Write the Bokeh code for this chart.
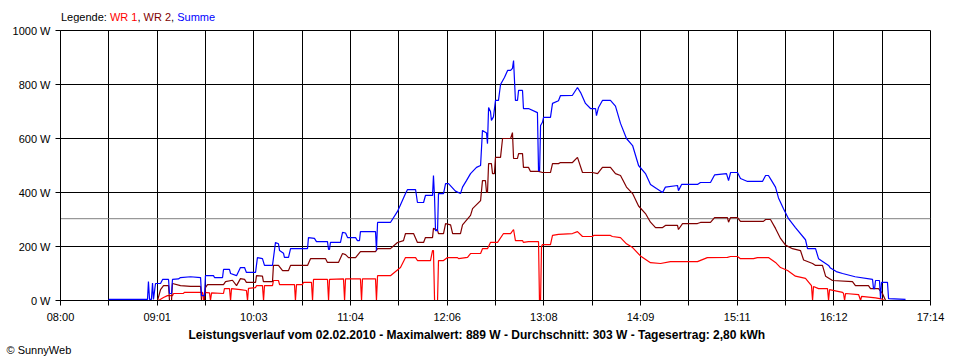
from bokeh.plotting import figure
from bokeh.models import Range1d, FixedTicker, Span, Title, Div
from bokeh.layouts import column
from bokeh.embed import file_html
from bokeh.resources import INLINE

FONT = "Liberation Sans"

# time axis: minutes after 08:00, ending 17:14
x_end = 554
x_tick_labels = ["08:00", "09:01", "10:03", "11:04", "12:06",
                 "13:08", "14:09", "15:11", "16:12", "17:14"]
y_ticks = [0, 200, 400, 600, 800, 1000]
y_tick_labels = ["0 W", "200 W", "400 W", "600 W", "800 W", "1000 W"]
avg_w = 303

series_names = ["WR 1", "WR 2", "Summe"]
series_colors = ["#FF0000", "#800000", "#0000FF"]

title_text = ("Leistungsverlauf vom 02.02.2010 - Maximalwert: 889 W - "
              "Durchschnitt: 303 W - Tagesertrag: 2,80 kWh")
credit_text = "\u00a9 SunnyWeb"

# Summe (blue)
sum_t = [30.6, 55.4, 56.0, 56.7, 57.9, 58.6, 59.2, 60.5, 63.7, 65.0, 68.8, 69.4, 70.7, 71.3,
         75.1, 76.4, 82.8, 89.2, 89.8, 91.7, 92.3, 97.4, 98.1, 103.2, 103.8, 107.6, 108.3,
         112.1, 114.6, 117.2, 118.4, 124.2, 125.4, 128.6, 129.9, 135.0, 136.9, 138.8, 139.5,
         142.0, 142.6, 145.2, 146.5, 157.3, 157.9, 161.7, 163.0, 170.0, 170.7, 171.3, 171.9,
         178.3, 179.6, 181.5, 182.8, 187.9, 189.1, 190.4, 191.0, 200.6, 201.2, 201.9, 210.1,
         214.6, 219.7, 221.0, 226.1, 227.3, 231.2, 232.4, 236.9, 237.5, 238.2, 238.8, 240.1,
         240.7, 243.9, 245.2, 247.1, 251.5, 254.7, 256.0, 258.5, 261.1, 264.9, 267.5, 268.7,
         271.3, 271.9, 272.6, 273.8, 274.4, 275.7, 277.0, 278.9, 280.2, 282.7, 284.7, 286.6,
         287.8, 288.5, 289.7, 291.0, 291.7, 294.2, 294.8, 298.0, 303.7, 304.4, 305.1, 305.7,
         306.9, 307.6, 312.0, 313.3, 317.1, 318.4, 326.0, 329.2, 331.2, 334.3, 337.5, 340.7,
         341.3, 342.6, 345.1, 350.2, 353.4, 356.6, 360.4, 364.3, 368.1, 372.5, 375.7, 379.5,
         383.4, 385.2, 392.9, 393.5, 395.5, 405.6, 407.5, 413.9, 416.5, 424.1, 425.4, 426.7,
         431.1, 433.0, 437.5, 447.0, 449.0, 450.8, 452.8, 455.3, 457.2, 460.4, 463.6, 468.0,
         474.4, 475.7, 480.8, 482.7, 489.1, 490.3, 494.0, 498.0, 506.0, 517.1, 517.7, 518.4,
         519.0, 521.5, 522.2, 522.8, 526.6, 527.3, 538.1]
sum_w = [4, 4, 70, 4, 4, 65, 4, 63, 63, 78, 78, 26, 26, 78,
         80, 85, 88, 85, 18, 18, 92, 92, 85, 85, 115, 115, 100,
         92, 122, 122, 104, 104, 159, 155, 130, 130, 215, 210, 185,
         175, 160, 160, 192, 192, 233, 230, 218, 218, 189, 189, 215,
         215, 252, 250, 233, 233, 222, 222, 255, 255, 185, 289, 289,
         330, 396, 411, 411, 363, 363, 389, 389, 463, 380, 259, 259,
         396, 396, 433, 433, 405, 396, 420, 444, 470, 493, 500, 630,
         620, 581, 715, 700, 667, 680, 741, 741, 800, 826, 852, 852,
         860, 889, 741, 741, 778, 778, 711, 711, 696, 481, 481, 648,
         660, 678, 678, 730, 740, 759, 760, 789, 770, 730, 711, 711,
         685, 715, 741, 741, 720, 656, 600, 574, 500, 470, 430, 415,
         400, 420, 426, 407, 430, 430, 437, 437, 465, 470, 444, 474,
         474, 452, 441, 441, 463, 463, 444, 420, 380, 340, 303, 270,
         225, 192, 192, 155, 130, 120, 107, 100, 88, 78, 44, 44,
         74, 74, 7, 67, 67, 7, 4]

# WR 2 (maroon)
wr2_t = [61.8, 63.7, 65.6, 68.8, 69.4, 70.7, 71.3, 76.4, 82.8, 89.2, 89.8, 91.7, 92.3, 93.6,
         103.8, 105.1, 109.5, 112.1, 114.6, 117.2, 118.4, 124.2, 124.8, 128.6, 129.2, 135.0,
         135.6, 138.8, 141.4, 145.2, 146.5, 157.3, 159.2, 168.8, 170.0, 177.0, 179.6, 181.5,
         183.4, 187.9, 191.0, 200.6, 201.9, 210.1, 214.6, 218.4, 219.7, 224.8, 227.3, 231.2,
         232.4, 236.9, 237.5, 240.1, 240.7, 243.9, 245.2, 248.4, 249.7, 254.7, 256.0, 261.1,
         262.4, 267.5, 268.7, 270.6, 271.3, 271.9, 272.6, 274.4, 275.1, 276.3, 277.0, 280.2,
         281.5, 286.6, 287.8, 288.5, 291.0, 291.7, 294.2, 294.8, 298.0, 299.3, 304.4, 306.9,
         312.0, 313.3, 317.1, 318.4, 326.0, 329.2, 332.4, 338.8, 342.0, 345.1, 350.2, 353.4,
         356.6, 360.4, 364.3, 368.1, 372.5, 375.7, 378.9, 383.4, 385.2, 392.9, 393.5, 396.1,
         405.6, 407.5, 413.9, 416.5, 424.7, 425.4, 426.7, 431.1, 433.0, 447.6, 449.0, 452.1,
         455.3, 458.5, 461.7, 466.1, 471.2, 473.2, 478.9, 480.8, 485.2, 487.2, 491.6, 504.3,
         506.2, 514.5, 515.8, 520.9, 523.4, 525.4]
wr2_w = [0, 40, 55, 55, 0, 0, 63, 55, 52, 52, 0, 0, 48, 59,
         59, 70, 75, 55, 81, 78, 67, 67, 92, 90, 70, 70,
         130, 130, 111, 111, 130, 130, 155, 155, 141, 141, 174, 170,
         159, 159, 181, 181, 192, 192, 215, 222, 248, 248, 215, 215,
         233, 233, 267, 260, 248, 248, 285, 280, 248, 248, 280, 315,
         340, 370, 444, 444, 400, 400, 507, 507, 470, 470, 530, 530,
         600, 600, 622, 526, 526, 544, 544, 493, 493, 478, 478, 474,
         474, 507, 507, 511, 511, 530, 474, 474, 470, 493, 493, 470,
         463, 420, 396, 350, 322, 290, 270, 270, 278, 278, 263, 285,
         285, 289, 289, 307, 307, 290, 307, 307, 293, 293, 300, 300,
         267, 230, 205, 192, 185, 150, 137, 130, 130, 90, 74, 70,
         55, 55, 44, 44, 26, 0]

# WR 1 (red)
wr1_t = [62.4, 65.6, 68.1, 71.3, 72.0, 78.3, 78.9, 90.4, 91.1, 91.7, 94.9, 95.5, 96.2, 103.8,
         104.4, 107.6, 108.3, 108.9, 114.6, 118.4, 119.1, 119.7, 124.2, 124.8, 128.6, 129.3,
         129.9, 135.0, 135.6, 138.8, 139.5, 149.0, 149.6, 150.3, 154.1, 154.7, 159.8, 160.5,
         161.1, 170.0, 170.7, 171.3, 180.2, 180.9, 181.5, 191.0, 191.7, 192.3, 200.6, 201.2,
         201.9, 210.1, 216.5, 219.7, 226.1, 227.3, 235.6, 236.9, 237.5, 238.2, 240.1, 240.7,
         243.9, 246.4, 252.8, 253.5, 259.2, 261.1, 267.5, 268.7, 271.9, 273.8, 278.3, 282.1,
         286.6, 288.5, 289.7, 294.2, 294.8, 298.0, 304.4, 305.0, 305.7, 306.3, 306.9, 312.0,
         313.3, 317.1, 326.0, 329.2, 332.4, 338.8, 339.5, 350.2, 351.4, 356.6, 360.4, 364.3,
         369.3, 375.7, 382.1, 388.4, 405.6, 411.9, 424.7, 426.7, 431.1, 433.0, 441.3, 443.8,
         450.8, 455.3, 458.5, 463.0, 468.0, 474.4, 478.2, 478.9, 479.5, 482.7, 488.4, 489.1,
         489.7, 498.0, 498.6, 499.3, 499.9, 508.2, 509.5, 510.1, 519.0, 523.4, 524.1]
wr1_w = [0, 11, 18, 18, 26, 26, 30, 30, 0, 30, 28, 0, 28, 26,
         44, 44, 0, 44, 40, 37, 0, 45, 48, 55, 55, 0,
         55, 55, 74, 74, 59, 59, 0, 59, 59, 67, 67, 0,
         78, 78, 0, 78, 80, 0, 80, 80, 0, 80, 80, 0,
         92, 92, 122, 159, 159, 148, 148, 185, 185, 0, 0, 148,
         148, 159, 159, 155, 160, 174, 174, 192, 192, 215, 215, 248,
         248, 263, 222, 222, 215, 218, 218, 0, 0, 200, 207, 207,
         241, 245, 248, 255, 237, 237, 241, 241, 237, 233, 210, 196,
         165, 140, 137, 144, 144, 159, 160, 163, 163, 155, 155, 159,
         159, 141, 122, 111, 90, 82, 55, 0, 52, 44, 44, 0,
         40, 30, 26, 0, 26, 22, 0, 15, 10, 5, 0]

# ---------------------------------------------------------------
n_int = 18
x_ticks = [x_end * k / n_int for k in range(n_int + 1)]
x_over = {}
for k, xt in enumerate(x_ticks):
    x_over[xt] = x_tick_labels[k // 2] if k % 2 == 0 else ""

TOP_H = 22
p = figure(width=960, height=360 - TOP_H, output_backend="svg", toolbar_location=None,
           x_range=Range1d(0, x_end), y_range=Range1d(0, 1000),
           min_border_left=60, min_border_right=30, min_border_top=8,
           min_border_bottom=60, background_fill_color="white",
           border_fill_color="white")
p.outline_line_color = "black"
p.outline_line_width = 1

for ax in (p.xaxis[0], p.yaxis[0]):
    ax.axis_line_color = "black"
    ax.major_tick_line_color = "black"
    ax.minor_tick_line_color = None
    ax.major_tick_in = 0
    ax.major_tick_out = 5
    ax.major_label_text_font = FONT
    ax.major_label_text_font_size = "11px"
    ax.major_label_text_color = "black"
    ax.major_label_standoff = 5

p.xaxis.ticker = FixedTicker(ticks=x_ticks)
p.xaxis.major_label_overrides = x_over
p.yaxis.ticker = FixedTicker(ticks=y_ticks)
p.yaxis.major_label_overrides = {v: s for v, s in zip(y_ticks, y_tick_labels)}

p.xgrid.ticker = FixedTicker(ticks=x_ticks)
p.ygrid.ticker = FixedTicker(ticks=y_ticks)
for g in (p.xgrid[0], p.ygrid[0]):
    g.grid_line_color = "black"
    g.grid_line_width = 1
    g.grid_line_alpha = 1.0

p.add_layout(Span(location=avg_w, dimension="width", line_color="#808080",
                  line_width=1, level="underlay"))

for (tt, ww), col in zip([(wr1_t, wr1_w), (wr2_t, wr2_w), (sum_t, sum_w)], series_colors):
    p.line(tt, ww, line_color=col, line_width=1.2)

p.add_layout(Title(text=title_text, align="left", offset=128, text_font=FONT,
                   text_font_size="12px", text_font_style="bold",
                   text_color="black", standoff=0), "below")
p.add_layout(Title(text=credit_text, align="left", offset=-54, text_font=FONT,
                   text_font_size="11px", text_font_style="normal",
                   text_color="black", standoff=0), "below")

legend_html = ('<div style="position:relative;width:960px;height:%dpx;'
               'font-family:\'%s\';font-size:11px;line-height:12px;">'
               '<span style="position:absolute;left:61px;top:11px;white-space:nowrap;">'
               'Legende: ' % (TOP_H, FONT))
legend_html += ", ".join('<span style="color:%s">%s</span>' % (c, n)
                         for n, c in zip(series_names, series_colors))
legend_html += '</span></div>'
top = Div(text=legend_html, width=960, height=TOP_H, margin=0)

layout = column(top, p, spacing=0)
open("out.html", "w").write(file_html(layout, INLINE))
